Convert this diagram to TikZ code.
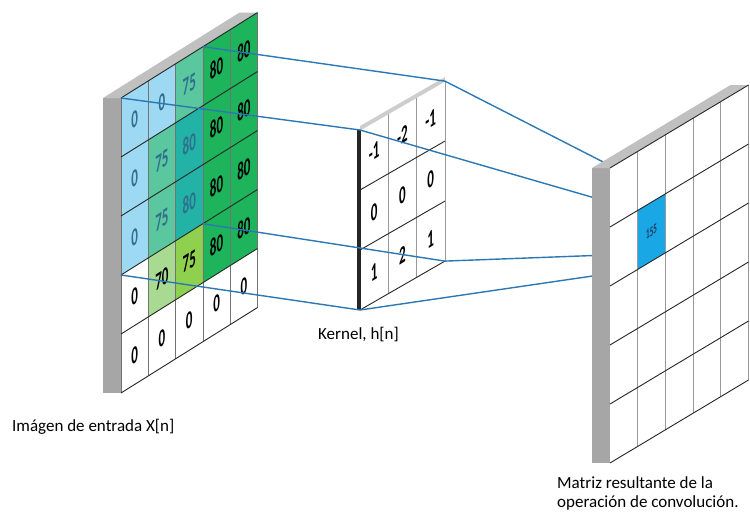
\documentclass[tikz,border=0pt]{standalone}
\usepackage{fontspec}
\setmainfont{Carlito}
\definecolor{lb}{HTML}{9DD9F3}
\definecolor{mint}{HTML}{5AC79E}
\definecolor{teal2}{HTML}{22B3A6}
\definecolor{grn}{HTML}{1EB45C}
\definecolor{lgrn}{HTML}{A9DA91}
\definecolor{ygrn}{HTML}{8FD14F}
\definecolor{ovtext}{HTML}{2F6F8F}
\definecolor{linkblue}{HTML}{2B78B5}
\definecolor{cellblue}{HTML}{1AA7E6}
\definecolor{slabside}{HTML}{A6A6A6}
\definecolor{slabtop}{HTML}{C0C0C0}
\definecolor{navy}{HTML}{1F3A5F}
\begin{document}
\begin{tikzpicture}[x=1pt,y=-1pt,
  ingrid/.style={shift={(121,98)}, x={(27.3pt,17.1pt)}, y={(0pt,-59pt)}},
  kgrid/.style={shift={(360,130)}, x={(28.3pt,16.3pt)}, y={(0pt,-60pt)}},
  ogrid/.style={shift={(610,168)}, x={(27.7pt,16.6pt)}, y={(0pt,-59pt)}},
  vline/.style={draw=black!55, line width=0.8pt},
  hline/.style={draw=black!85, line width=0.9pt},
  overt/.style={draw=black!40, line width=1pt},
  num/.style={font=\bfseries\fontsize{25}{25}\selectfont, inner sep=0pt, cm={0.52,0.33,0,1,(0,0)}},
  smallnum/.style={font=\bfseries\fontsize{14}{14}\selectfont, inner sep=0pt, text=navy, cm={0.5,0.32,0,1,(0,0)}},
  conn/.style={draw=linkblue, line width=1.4pt},
  lab/.style={font=\fontsize{17}{20}\selectfont, anchor=base west, inner sep=0pt, align=left},
]
\useasboundingbox (0,0) rectangle (750,512);

% ---------------- input image ----------------
\begin{scope}[ingrid]
  \fill[slabside] (0,0) -- (0,5) -- ++(-18pt,0pt) -- ++(0,-5) -- cycle;
  \fill[slabtop] (0,0) -- (5,0) -- ++(-18pt,0pt) -- ++(-5,0) -- cycle;
  \fill[white] (0,0) -- (5,0) -- (5,5) -- (0,5) -- cycle;
  \foreach \i/\j/\c in {0/0/lb,1/0/lb,2/0/mint,3/0/grn,4/0/grn,
                        0/1/lb,1/1/mint,2/1/teal2,3/1/grn,4/1/grn,
                        0/2/lb,1/2/mint,2/2/teal2,3/2/grn,4/2/grn,
                        1/3/lgrn,2/3/ygrn,3/3/grn,4/3/grn}
    \fill[\c] (\i,\j) -- ++(1,0) -- ++(0,1) -- ++(-1,0) -- cycle;
  \foreach \i in {0,...,5} \draw[vline] (\i,0) -- (\i,5);
  \foreach \j in {0,...,5} \draw[hline] (0,\j) -- (5,\j);
  \foreach \i/\j/\t/\c in {0/0/0/ovtext,1/0/0/ovtext,2/0/75/ovtext,3/0/80/black,4/0/80/black,
                           0/1/0/ovtext,1/1/75/ovtext,2/1/80/ovtext,3/1/80/black,4/1/80/black,
                           0/2/0/ovtext,1/2/75/ovtext,2/2/80/ovtext,3/2/80/black,4/2/80/black,
                           0/3/0/black,1/3/70/black,2/3/75/black,3/3/80/black,4/3/80/black,
                           0/4/0/black,1/4/0/black,2/4/0/black,3/4/0/black,4/4/0/black}
    \node[num, text=\c] (in-\i-\j) at (\i+0.5,\j+0.5) {\t};
  \coordinate (inA) at (0,0);
  \coordinate (inB) at (3,0);
  \coordinate (inC) at (0,3);
  \coordinate (inD) at (3,3);
\end{scope}

% ---------------- kernel ----------------
\begin{scope}[kgrid]
  \fill[slabtop!80] (0,0) -- (3,0) -- ++(0pt,4pt) -- ++(-3,0) -- cycle;
  \fill[white] (0,0) -- (3,0) -- (3,3) -- (0,3) -- cycle;
  \foreach \i in {1,2,3} \draw[vline, draw=black!40] (\i,0) -- (\i,3);
  \foreach \j in {1,2,3} \draw[hline] (0,\j) -- (3,\j);
  \draw[slabtop!80, line width=1pt] (0,0) -- (3,0);
  \draw[black!85, line width=4pt] ([xshift=-1.5pt]0,0) -- ([xshift=-1.5pt]0,3);
  \foreach \i/\j/\t in {0/0/-1,1/0/-2,2/0/-1,0/1/0,1/1/0,2/1/0,0/2/1,1/2/2,2/2/1}
    \node[num] (k-\i-\j) at (\i+0.5,\j+0.5) {\t};
  \coordinate (kTL) at (0,0);
  \coordinate (kTR) at (3,0);
  \coordinate (kBL) at (0,3);
  \coordinate (kBR) at (3,3);
\end{scope}

% output target cell corners
\begin{scope}[ogrid]
  \coordinate (oTL) at (1,1);
  \coordinate (oTR) at (2,1);
  \coordinate (oBL) at (1,2);
  \coordinate (oBR) at (2,2);
\end{scope}

% ---------------- connectors ----------------
\draw[conn] (inA) -- (kTL);
\draw[conn] (inB) -- (kTR);
\draw[conn] (inC) -- (kBL);
\draw[conn] (inD) -- (kBR);
\draw[conn] (kTL) -- (oTL);
\draw[conn] (kTR) -- (oTR);
\draw[conn] (kBL) -- (oBL);
\draw[conn] (kBR) -- (oBR);

% ---------------- output ----------------
\begin{scope}[ogrid]
  \fill[slabside] (0,0) -- (0,5) -- ++(-18pt,0pt) -- ++(0,-5) -- cycle;
  \fill[slabtop] (0,0) -- (5,0) -- ++(-18pt,0pt) -- ++(-5,0) -- cycle;
  \fill[white] (0,0) -- (5,0) -- (5,5) -- (0,5) -- cycle;
  \fill[cellblue] (1,1) -- (2,1) -- (2,2) -- (1,2) -- cycle;
  \foreach \i in {1,...,5} \draw[overt] (\i,0) -- (\i,5);
  \foreach \j in {0,...,5} \draw[hline] (0,\j) -- (5,\j);
  \node[smallnum] (res) at (1.5,1.5) {155};
\end{scope}

% ---------------- labels ----------------
\node[lab] (labin) at (12,431) {Imágen de entrada X[n]};
\node[lab] (labk) at (318,339) {Kernel, h[n]};
\node[lab] (labout1) at (557,488) {Matriz resultante de la};
\node[lab] (labout2) at (557,507) {operación de convolución.};
\end{tikzpicture}
\end{document}
